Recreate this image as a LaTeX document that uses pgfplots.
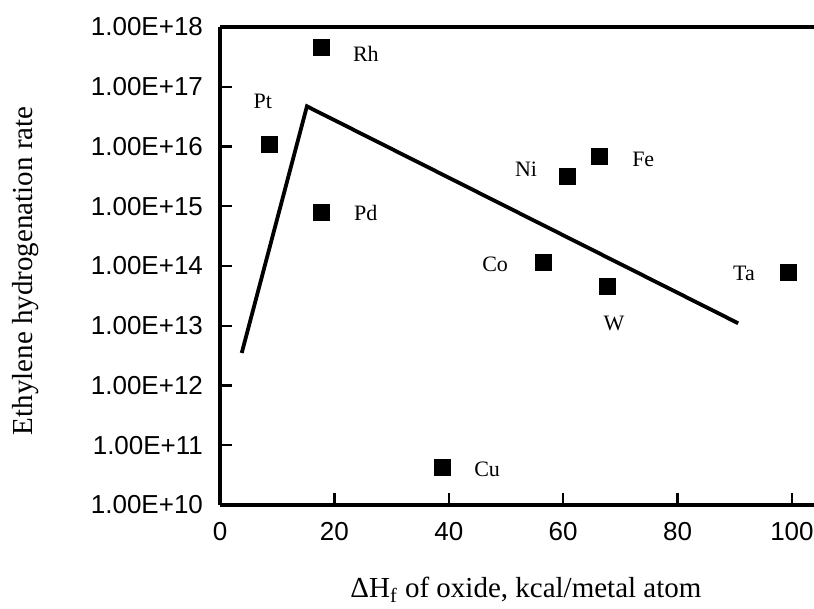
\documentclass[border=0pt]{standalone}
\usepackage{fontspec}
\setmainfont{Liberation Serif}
\newfontfamily\tickfont{Liberation Sans}
\usepackage{pgfplots}
\pgfplotsset{compat=1.18}

% metal points: heat of oxide formation vs rate
\pgfplotstableread{
x     y
17.8  4.5e17
8.6   1.07e16
17.7  7.8e14
60.7  3.2e15
66.4  6.8e15
56.6  1.13e14
67.8  4.5e13
99.3  7.8e13
38.8  4.2e10
}\metals

\begin{document}
\begin{tikzpicture}
\useasboundingbox (-110pt,-52pt) rectangle (297pt,252.5pt);
\begin{axis}[
    at={(0,0)}, anchor=south west,
    scale only axis,
    width=297pt, height=239pt,
    ymode=log,
    xmin=0, xmax=103.85,
    ymin=1e10, ymax=1e18,
    xtick={0,20,40,60,80,100},
    ytick={1e10,1e11,1e12,1e13,1e14,1e15,1e16,1e17,1e18},
    minor ytick={}, yminorticks=false,
    axis x line*=bottom, axis y line*=left,
    axis line style={line width=2pt},
    tick align=inside,
    major tick length=6pt,
    every tick/.style={black, line width=1.2pt},
    yticklabel={\pgfmathparse{int(round(\tick/2.302585))}1.00E+\pgfmathresult},
    yticklabel style={font=\tickfont\fontsize{13}{13}\selectfont, anchor=east, xshift=-5pt},
    xticklabel style={font=\tickfont\fontsize{13}{13}\selectfont, yshift=-5pt},
    /pgf/number format/assume math mode=true,
    xlabel={ΔH\textsubscript{f} of oxide, kcal/metal atom},
    ylabel={Ethylene hydrogenation rate},
    x label style={at={(axis description cs:0.515,0)}, anchor=center, yshift=-42.5pt, font=\fontsize{14.5}{14.5}\selectfont},
    y label style={at={(axis description cs:-0.328,0.49)}, anchor=center, rotate=0, font=\fontsize{14.5}{14.5}\selectfont},
    clip=false,
]
\draw[line width=2pt] (rel axis cs:0,1) -- (rel axis cs:1,1);
\addplot[black, line width=1.9pt, no marks] coordinates {(3.8,3.5e12) (15.2,4.7e16) (90.6,1.1e13)};
\addplot[only marks, mark=square*, mark size=4pt, black] table[x=x, y=y] {\metals};
\begin{scope}[every node/.style={font=\fontsize{11}{11}\selectfont}]
\node at (axis cs:25.5,3.5e17) {Rh};
\node at (axis cs:7.5,5.6e16) {Pt};
\node at (axis cs:25.5,7.8e14) {Pd};
\node at (axis cs:53.5,4.1e15) {Ni};
\node at (axis cs:74,6.0e15) {Fe};
\node at (axis cs:48.1,1.05e14) {Co};
\node at (axis cs:91.6,7.4e13) {Ta};
\node at (axis cs:68.9,1.1e13) {W};
\node at (axis cs:46.7,4.0e10) {Cu};
\end{scope}
\end{axis}
\end{tikzpicture}
\end{document}
